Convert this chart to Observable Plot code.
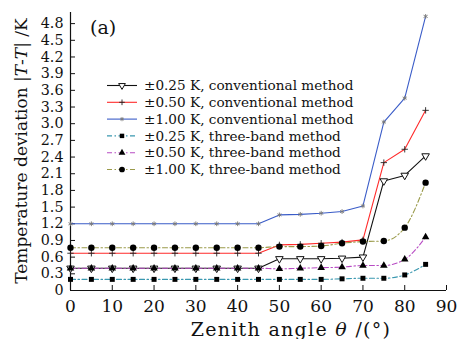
<!DOCTYPE html>
<html><head><meta charset="utf-8">
<script src="https://cdn.jsdelivr.net/npm/d3@7"></script>
<script src="https://cdn.jsdelivr.net/npm/@observablehq/plot@0.6"></script>
<style>
body{margin:0;background:#fff;}
svg{display:block;}
</style>
</head><body><div id="chart"></div>
<script>
const angles  = [0, 5, 10, 15, 20, 25, 30, 35, 40, 45, 50, 55, 60, 65, 70, 75, 80, 85];
const conv025 = [0.40, 0.40, 0.40, 0.40, 0.40, 0.40, 0.40, 0.40, 0.40, 0.40, 0.57, 0.57, 0.57, 0.58, 0.60, 1.97, 2.07, 2.42];
const conv050 = [0.67, 0.67, 0.67, 0.67, 0.67, 0.67, 0.67, 0.67, 0.67, 0.67, 0.82, 0.83, 0.85, 0.87, 0.91, 2.30, 2.54, 3.24];
const conv100 = [1.20, 1.20, 1.20, 1.20, 1.20, 1.20, 1.20, 1.20, 1.20, 1.20, 1.36, 1.37, 1.39, 1.42, 1.52, 3.03, 3.46, 4.93];
const tb025   = [0.20, 0.20, 0.20, 0.20, 0.20, 0.20, 0.20, 0.20, 0.20, 0.20, 0.20, 0.20, 0.20, 0.21, 0.22, 0.22, 0.28, 0.47];
const tb050   = [0.40, 0.40, 0.40, 0.40, 0.40, 0.40, 0.40, 0.40, 0.40, 0.40, 0.39, 0.40, 0.41, 0.42, 0.45, 0.45, 0.56, 0.96];
const tb100   = [0.77, 0.77, 0.77, 0.77, 0.77, 0.77, 0.77, 0.77, 0.77, 0.77, 0.79, 0.79, 0.80, 0.85, 0.88, 0.89, 1.13, 1.94];

const seriesNames = [
  "±0.25 K, conventional method",
  "±0.50 K, conventional method",
  "±1.00 K, conventional method",
  "±0.25 K, three-band method",
  "±0.50 K, three-band method",
  "±1.00 K, three-band method"
];
const xTicks = [0, 10, 20, 30, 40, 50, 60, 70, 80, 90];
const yTicks = [0, 0.3, 0.6, 0.9, 1.2, 1.5, 1.8, 2.1, 2.4, 2.7, 3.0, 3.3, 3.6, 3.9, 4.2, 4.5, 4.8];
const yTickLabels = ["0","0.3","0.6","0.9","1.2","1.5","1.8","2.1","2.4","2.7","3.0","3.3","3.6","3.9","4.2","4.5","4.8"];
const panelLabel = "(a)";

const FONT = "DejaVu Serif";
const dashDot = "5,2.5,1.5,2.5";
const styles = [
  {name: seriesNames[0], values: conv025, color: "#111111", dash: null, curve: "linear", symbol: "triangle", rotate: 180, fill: "white", stroke: "#111", r: 2.8, sw: 1},
  {name: seriesNames[1], values: conv050, color: "#ff2a2a", dash: null, curve: "linear", symbol: "plus", rotate: 0, fill: "none", stroke: "#222", r: 2.2, sw: 0.9},
  {name: seriesNames[2], values: conv100, color: "#3a5cc8", dash: null, curve: "linear", symbol: "asterisk", rotate: 0, fill: "none", stroke: "#777", r: 2.2, sw: 0.9},
  {name: seriesNames[3], values: tb025, color: "#3a98b0", dash: dashDot, curve: "monotone-x", symbol: "square", rotate: 0, fill: "#000", stroke: "none", r: 2.8, sw: 0},
  {name: seriesNames[4], values: tb050, color: "#b84cc4", dash: dashDot, curve: "monotone-x", symbol: "triangle", rotate: 0, fill: "#000", stroke: "none", r: 2.8, sw: 0},
  {name: seriesNames[5], values: tb100, color: "#9a9a4a", dash: dashDot, curve: "monotone-x", symbol: "circle", rotate: 0, fill: "#000", stroke: "none", r: 3.2, sw: 0}
];

const marks = [];
styles.forEach(s => {
  const rows = angles.map((a, i) => ({x: a, y: s.values[i]}));
  marks.push(Plot.line(rows, {x: "x", y: "y", stroke: s.color, strokeWidth: 1.1, strokeDasharray: s.dash, curve: s.curve}));
});
styles.forEach(s => {
  const rows = angles.map((a, i) => ({x: a, y: s.values[i]}));
  marks.push(Plot.dot(rows, {x: "x", y: "y", symbol: () => s.symbol, r: s.r, fill: s.fill, stroke: s.stroke, strokeWidth: s.sw, rotate: s.rotate}));
});

const svg = Plot.plot({
  width: 460,
  height: 339,
  marginLeft: 70,
  marginRight: 14,
  marginTop: 12,
  marginBottom: 49,
  style: {fontFamily: FONT, fontSize: "17px", color: "#111", background: "white"},
  x: {domain: [0, 90]},
  y: {domain: [0, 5.0]},
  marks: [
    Plot.axisX({ticks: xTicks, tickSize: -5, tickPadding: 14, label: null, fontSize: 17, tickFormat: d => String(d)}),
    Plot.axisY({ticks: yTicks, tickSize: -5, tickPadding: 12, label: null, fontSize: 14.3, tickFormat: d => yTickLabels[yTicks.indexOf(d)]}),
    Plot.ruleY([0], {stroke: "#111", strokeWidth: 1.2}),
    Plot.ruleX([0], {stroke: "#111", strokeWidth: 1.2}),
    ...marks
  ]
});

const sel = d3.select(svg);
// panel label
sel.append("text").attr("x", 90).attr("y", 34).attr("text-anchor", "start")
  .attr("font-family", FONT).attr("font-size", 19).attr("fill", "#111").text(panelLabel);

// x title
const xt = sel.append("text").attr("x", 291).attr("y", 336).attr("text-anchor", "middle")
  .attr("font-family", FONT).attr("font-size", 19).attr("letter-spacing", "1.3").attr("fill", "#111");
xt.append("tspan").text("Zenith angle ");
xt.append("tspan").attr("font-style", "italic").text("θ");
xt.append("tspan").text(" /(°)");

// y title
const yt = sel.append("text").attr("transform", "translate(27,151) rotate(-90)").attr("text-anchor", "middle")
  .attr("font-family", FONT).attr("font-size", 17).attr("fill", "#111");
yt.append("tspan").text("Temperature deviation |");
yt.append("tspan").attr("font-style", "italic").text("T");
yt.append("tspan").text("-");
yt.append("tspan").attr("font-style", "italic").text("T");
yt.append("tspan").text("| /K");

// legend
const symMap = {triangle: d3.symbolTriangle, plus: d3.symbolPlus, asterisk: d3.symbolAsterisk, square: d3.symbolSquare, circle: d3.symbolCircle};
styles.forEach((s, i) => {
  const y = 85.5 + i * 16.8;
  const g = sel.append("g");
  g.append("line").attr("x1", 107).attr("x2", 137).attr("y1", y).attr("y2", y)
    .attr("stroke", s.color).attr("stroke-width", 1.1).attr("stroke-dasharray", s.dash);
  g.append("path").attr("d", d3.symbol(symMap[s.symbol], Math.PI * s.r * s.r * 0.8)())
    .attr("transform", `translate(122,${y}) rotate(${s.rotate})`)
    .attr("fill", s.fill).attr("stroke", s.stroke).attr("stroke-width", s.sw);
  g.append("text").attr("x", 144).attr("y", y).attr("dy", "0.35em").attr("text-anchor", "start")
    .attr("font-family", FONT).attr("font-size", 13.6).attr("fill", "#111").text(s.name);
});

document.getElementById("chart").appendChild(svg);
</script>
</body></html>
